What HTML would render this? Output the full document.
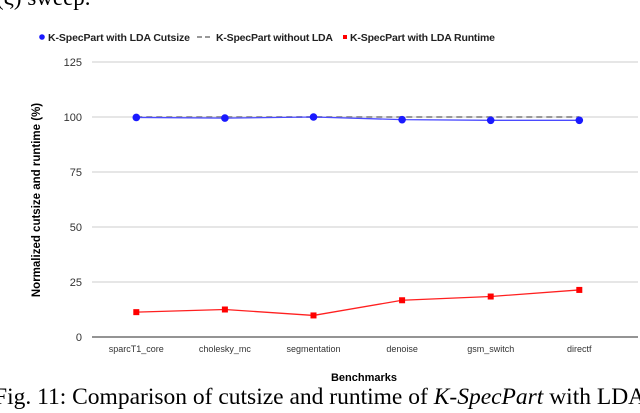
<!DOCTYPE html>
<html><head><meta charset="utf-8"><style>
body{margin:0;background:#fff;width:640px;height:413px;overflow:hidden;font-family:"Liberation Sans",sans-serif}
svg{display:block}
</style></head><body>
<svg width="640" height="413">
<text x="-4" y="5" font-family="Liberation Serif" font-size="23">(ξ) sweep.</text>
<g id="legend" font-size="10.5" font-weight="bold" fill="#222">
<circle cx="42" cy="37" r="2.8" fill="#1a1aff"/>
<text x="48" y="41" textLength="142">K-SpecPart with LDA Cutsize</text>
<line x1="197" y1="37" x2="213" y2="37" stroke="#999" stroke-width="2" stroke-dasharray="5,3"/>
<text x="216" y="41" textLength="117">K-SpecPart without LDA</text>
<rect x="343" y="35" width="4" height="4" fill="#f00"/>
<text x="350" y="41" textLength="145">K-SpecPart with LDA Runtime</text>
</g>
<g id="axes"></g>
<g id="series"></g>
<text x="40" y="200" transform="rotate(-90 40 200)" text-anchor="middle" font-size="11.5" font-weight="bold">Normalized  cutsize and runtime (%)</text>
<text x="364" y="381" text-anchor="middle" font-size="11" font-weight="bold">Benchmarks</text>
<text x="-6" y="404" font-family="Liberation Serif" font-size="23.5">Fig. 11: Comparison of cutsize and runtime of <tspan font-style="italic">K-SpecPart</tspan> with LDA</text>
</svg>
<script>
const categories=["sparcT1_core","cholesky_mc","segmentation","denoise","gsm_switch","directf"];
const yTicks=[0,25,50,75,100,125];
const cutsize=[99.8,99.5,100,98.8,98.5,98.5];
const withoutLDA=[100,100,100,100,100,100];
const runtime=[11.3,12.5,9.8,16.7,18.4,21.4];
const NS="http://www.w3.org/2000/svg";
const x0=92,bw=88.6,y0=337,yPer=2.2;
const xs=i=>x0+bw*(i+0.5);
const ys=v=>y0-v*yPer;
function mk(t,a,p){const e=document.createElementNS(NS,t);for(const k in a)e.setAttribute(k,a[k]);p.appendChild(e);return e;}
const ax=document.getElementById('axes'),se=document.getElementById('series');
yTicks.forEach(v=>{
 const l=mk('line',{x1:92,x2:638,y1:ys(v),y2:ys(v),stroke:v===0?'#555':'#ccc','stroke-width':v===0?1.3:1},ax);
 
 
 const t=mk('text',{x:82,y:ys(v)+4,'text-anchor':'end','font-size':11,fill:'#333'},ax);t.textContent=v;
 
 
});
categories.forEach((c,i)=>{
 const t=mk('text',{x:xs(i),y:352,'text-anchor':'middle','font-size':9,fill:'#333'},ax);t.textContent=c;
 
 
});
function pts(arr){return arr.map((v,i)=>xs(i)+','+ys(v)).join(' ');}
const d=mk('polyline',{points:pts(withoutLDA),fill:'none',stroke:'#999','stroke-width':2,'stroke-dasharray':'6,4'},se);


const c=mk('polyline',{points:pts(cutsize),fill:'none',stroke:'#4a4aff','stroke-width':1.3},se);


cutsize.forEach((v,i)=>{const e=mk('circle',{cx:xs(i),cy:ys(v),r:3.8,fill:'#1a1aff'},se);
 
 });
const r=mk('polyline',{points:pts(runtime),fill:'none',stroke:'#ff2020','stroke-width':1.3},se);


runtime.forEach((v,i)=>{const e=mk('rect',{x:xs(i)-3,y:ys(v)-3,width:6,height:6,fill:'#f00'},se);
 
 });
</script>
</body></html>
